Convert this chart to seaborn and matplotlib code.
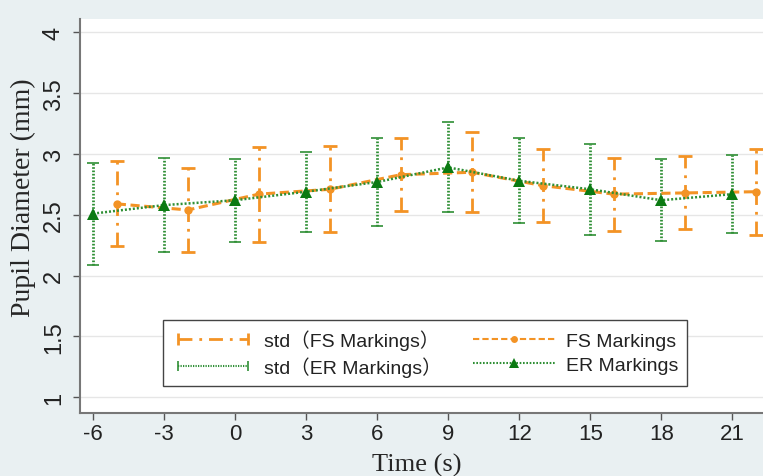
import numpy as np
import pandas as pd
import matplotlib
matplotlib.use("Agg")
import matplotlib.pyplot as plt
import seaborn as sns
from matplotlib.lines import Line2D
from matplotlib.legend_handler import HandlerLine2D

# ---- data ----
er_time = [-6, -3, 0, 3, 6, 9, 12, 15, 18, 21]
er_mean = [2.51, 2.58, 2.62, 2.69, 2.77, 2.89, 2.78, 2.71, 2.62, 2.67]
er_std = [0.42, 0.385, 0.34, 0.33, 0.365, 0.37, 0.35, 0.375, 0.335, 0.32]

fs_time = [-5, -2, 1, 4, 7, 10, 13, 16, 19, 22]
fs_mean = [2.59, 2.54, 2.67, 2.71, 2.83, 2.85, 2.74, 2.67, 2.68, 2.69]
fs_std = [0.35, 0.345, 0.39, 0.355, 0.30, 0.33, 0.30, 0.30, 0.30, 0.355]

x_ticks = [-6, -3, 0, 3, 6, 9, 12, 15, 18, 21]
y_ticks = [1, 1.5, 2, 2.5, 3, 3.5, 4]
y_ticklabels = ["1", "1.5", "2", "2.5", "3", "3.5", "4"]

legend_labels = ["std\uff08FS Markings\uff09", "std\uff08ER Markings\uff09", "FS Markings", "ER Markings"]

ORANGE = "#f39325"
GREEN_DARK = "#0b7a12"
GREEN = "#2f8f35"
BG = "#e9f0f2"

sns.set_style("white")
plt.rcParams["font.family"] = ["Liberation Sans", "Noto Sans CJK SC", "DejaVu Sans"]

fig = plt.figure(figsize=(7.63, 4.77), dpi=100, facecolor=BG)
ax = fig.add_axes([0.105, 0.132, 0.895, 0.826])
ax.set_facecolor("white")

df_er = pd.DataFrame({"t": er_time, "m": er_mean, "s": er_std})
df_fs = pd.DataFrame({"t": fs_time, "m": fs_mean, "s": fs_std})

# grid
for yv in y_ticks:
    ax.axhline(yv, color="#e6e6e6", lw=1.0, zorder=0)

# error bars
eb_er = ax.errorbar(df_er["t"], df_er["m"], yerr=df_er["s"], fmt="none",
                    ecolor=GREEN, elinewidth=2.0, capsize=4, capthick=1.2, zorder=2)
eb_er[2][0].set_linestyle((0, (0.6, 0.6)))
eb_fs = ax.errorbar(df_fs["t"], df_fs["m"], yerr=df_fs["s"], fmt="none",
                    ecolor=ORANGE, elinewidth=2.0, capsize=5, capthick=2.0, zorder=2)
eb_fs[2][0].set_linestyle((0, (5, 2.5, 1, 2.5)))

# mean lines
sns.lineplot(data=df_fs, x="t", y="m", ax=ax, color=ORANGE, linestyle=(0, (3, 1.5)),
             lw=2.2, marker="o", markersize=6, markeredgewidth=0, zorder=4)
sns.lineplot(data=df_er, x="t", y="m", ax=ax, color=GREEN, linestyle=(0, (0.8, 0.8)),
             lw=1.8, marker="^", markersize=9, markerfacecolor=GREEN_DARK,
             markeredgecolor=GREEN_DARK, markeredgewidth=0, zorder=5)

ax.set_xlim(-6.55, 22.3)
ax.set_ylim(0.87, 4.11)
ax.set_xticks(x_ticks)
ax.set_xticklabels([str(v) for v in x_ticks], fontsize=16, color="#222222")
ax.set_yticks(y_ticks)
ax.set_yticklabels(y_ticklabels, fontsize=17, color="#222222", rotation=90, va="center")
ax.tick_params(axis="both", direction="out", length=5, width=1, color="#555555")
ax.tick_params(axis="x", bottom=True, pad=2)
ax.tick_params(axis="y", left=True, pad=6)

for s in ["top", "right"]:
    ax.spines[s].set_visible(False)
for s in ["left", "bottom"]:
    ax.spines[s].set_color("#777777")
    ax.spines[s].set_linewidth(1.5)

ax.set_xlabel("Time (s)", fontsize=19, family=["Liberation Serif"], va="baseline")
ax.set_ylabel("Pupil Diameter (mm)", fontsize=20, family=["Liberation Serif"], va="center")
ax.yaxis.set_label_coords(-0.083, 0.55)
ax.xaxis.set_label_coords(0.493, -0.147)

# legend
h_stdfs = Line2D([0, 1], [0, 0], color=ORANGE, lw=2, linestyle=(0, (5, 2.5, 1, 2.5)),
                 marker="|", markersize=9, markeredgewidth=2)
h_stder = Line2D([0, 1], [0, 0], color=GREEN, lw=1.5, linestyle=(0, (0.6, 0.6)),
                 marker="|", markersize=7, markeredgewidth=1.2)
h_fs = Line2D([0, 1], [0, 0], color=ORANGE, lw=1.5, linestyle=(0, (3, 1.5)),
              marker="o", markersize=5, markeredgewidth=0)
h_er = Line2D([0, 1], [0, 0], color=GREEN, lw=1.5, linestyle=(0, (0.8, 0.8)),
              marker="^", markersize=7, markerfacecolor=GREEN_DARK, markeredgewidth=0)
leg = ax.legend([h_stdfs, h_stder, h_fs, h_er], legend_labels, ncol=2,
                loc="lower left", bbox_to_anchor=(0.1215, 0.0685, 0.767, 0.162),
                mode="expand", fontsize=14, frameon=True, fancybox=False,
                handlelength=4.2, handletextpad=0.55, borderpad=0.45, labelspacing=0.35,
                borderaxespad=0.0, columnspacing=2.0,
                handler_map={h_stdfs: HandlerLine2D(numpoints=2),
                             h_stder: HandlerLine2D(numpoints=2),
                             h_fs: HandlerLine2D(numpoints=1),
                             h_er: HandlerLine2D(numpoints=1)})
leg.get_frame().set_edgecolor("#444444")
leg.get_frame().set_linewidth(1.0)
leg.get_frame().set_facecolor("white")
leg.get_frame().set_alpha(1.0)
for t in leg.get_texts():
    t.set_color("#222222")

fig.savefig("out.png", dpi=100, facecolor=BG)
